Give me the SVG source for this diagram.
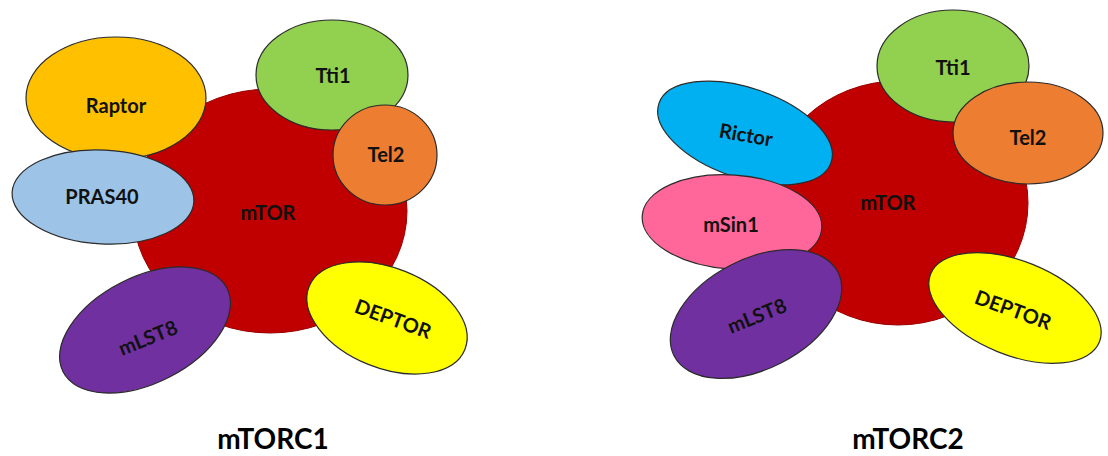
<svg xmlns="http://www.w3.org/2000/svg" width="1108" height="456" viewBox="0 0 1108 456">
<style>
.n{stroke:#2b2b2b;stroke-width:1.2}
.core{fill:#C00000;stroke:#9a0000;stroke-width:1}
.t{font-family:Lato,"Open Sans","Liberation Sans",sans-serif;font-weight:bold;font-size:20px;fill:#111;text-anchor:middle}
.title{font-family:Lato,"Open Sans","Liberation Sans",sans-serif;font-weight:bold;font-size:28px;fill:#000;text-anchor:middle}
</style>
<rect width="1108" height="456" fill="#fff"/>
<g id="connectors"/>
<!-- mTORC1 -->
<g id="c1-mtor"><ellipse class="core" cx="270" cy="211" rx="137" ry="122"/><text class="t" x="268" y="220">mTOR</text></g>
<g id="c1-raptor"><ellipse class="n" cx="116" cy="98" rx="90" ry="61" fill="#FFC000"/><text class="t" x="116" y="113">Raptor</text></g>
<g id="c1-pras40"><ellipse class="n" cx="103" cy="197" rx="91" ry="47" fill="#9DC3E6" transform="rotate(3 103 197)"/><text class="t" x="102" y="204">PRAS40</text></g>
<g id="c1-tti1"><ellipse class="n" cx="332" cy="75" rx="76" ry="55" fill="#92D050"/><text class="t" x="333" y="83">Tti1</text></g>
<g id="c1-tel2"><ellipse class="n" cx="385" cy="155" rx="52" ry="50" fill="#ED7D31"/><text class="t" x="386" y="162">Tel2</text></g>
<g id="c1-mlst8"><ellipse class="n" cx="145" cy="330" rx="92" ry="53" fill="#7030A0" transform="rotate(-27 145 330)"/><text class="t" transform="translate(148 338) rotate(-22)" x="0" y="7">mLST8</text></g>
<g id="c1-deptor"><ellipse class="n" cx="387" cy="318" rx="84" ry="50" fill="#FFFF00" transform="rotate(22 387 318)"/><text class="t" transform="translate(393 319) rotate(20)" x="0" y="7">DEPTOR</text></g>
<g id="c1-title"><text class="title" x="273" y="449">mTORC1</text></g>
<!-- mTORC2 -->
<g id="c2-mtor"><ellipse class="core" cx="898" cy="203" rx="130" ry="122"/><text class="t" x="888" y="210">mTOR</text></g>
<g id="c2-rictor"><ellipse class="n" cx="745" cy="133" rx="91" ry="45" fill="#00B0F0" transform="rotate(19 745 133)"/><text class="t" transform="translate(746 135) rotate(10)" x="0" y="7">Rictor</text></g>
<g id="c2-msin1"><ellipse class="n" cx="732" cy="222" rx="90" ry="47" fill="#FF6699" transform="rotate(4 732 222)"/><text class="t" x="731" y="232">mSin1</text></g>
<g id="c2-mlst8"><ellipse class="n" cx="756" cy="314" rx="92" ry="55" fill="#7030A0" transform="rotate(-27 756 314)"/><text class="t" transform="translate(757 316) rotate(-22)" x="0" y="7">mLST8</text></g>
<g id="c2-tti1"><ellipse class="n" cx="953" cy="66" rx="76" ry="56" fill="#92D050"/><text class="t" x="953" y="75">Tti1</text></g>
<g id="c2-tel2"><ellipse class="n" cx="1028" cy="133" rx="75" ry="51" fill="#ED7D31"/><text class="t" x="1028" y="145">Tel2</text></g>
<g id="c2-deptor"><ellipse class="n" cx="1015" cy="308" rx="91" ry="47" fill="#FFFF00" transform="rotate(22 1015 308)"/><text class="t" transform="translate(1013 310) rotate(20)" x="0" y="7">DEPTOR</text></g>
<g id="c2-title"><text class="title" x="908" y="449">mTORC2</text></g>
</svg>
